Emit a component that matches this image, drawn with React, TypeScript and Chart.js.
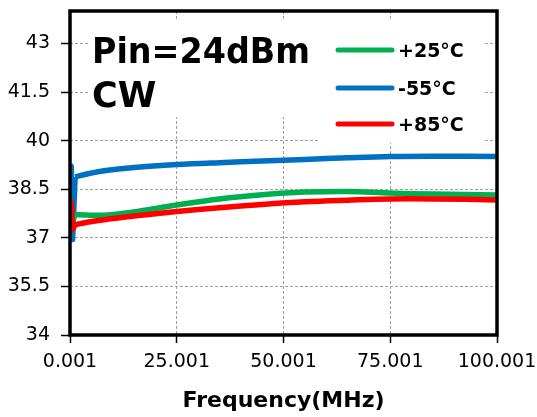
import React, { useEffect, useRef } from 'react';
import { Chart, registerables } from 'chart.js';

Chart.register(...registerables);

// Frequency sweep (MHz); the first points below ~1 MHz form the start-up spike
const FREQ = [0.001, 0.3, 0.6, 1.2, 4, 8, 15, 25, 35, 45, 55, 65, 75, 85, 100.001];
const GAIN_P25 = [37.9, 37.85, 37.5, 37.72, 37.7, 37.7, 37.8, 38.01, 38.2, 38.33, 38.41, 38.43, 38.38, 38.35, 38.32];
const GAIN_M55 = [39.25, 39.2, 36.95, 38.88, 38.97, 39.07, 39.17, 39.26, 39.32, 39.37, 39.42, 39.47, 39.51, 39.52, 39.51];
const GAIN_P85 = [38.17, 38.1, 37.25, 37.4, 37.48, 37.56, 37.67, 37.81, 37.93, 38.03, 38.11, 38.16, 38.2, 38.2, 38.17];
const SPIKE_END = 3; // index where the start-up spike joins the smooth sweep

const X_TICKS = [0.001, 25.001, 50.001, 75.001, 100.001];
const X_LABELS = ['0.001', '25.001', '50.001', '75.001', '100.001'];
const Y_TICKS = [34, 35.5, 37, 38.5, 40, 41.5, 43];
const Y_LABELS = ['34', '35.5', '37', '38.5', '40', '41.5', '43'];

const SERIES_NAMES = ['+25°C', '-55°C', '+85°C'];
const SERIES_COLORS = ['#00b050', '#0070c0', '#ff0000'];
const SERIES_ORDER = [1, 2, 0]; // red drawn on top
const X_TITLE = 'Frequency(MHz)';
const NOTE_LINES = ['Pin=24dBm', 'CW'];

const FONT = "'DejaVu Sans', Verdana, sans-serif";

const overlayPlugin = {
  id: 'overlay',
  beforeDatasetsDraw(chart: any) {
    const ctx = chart.ctx as CanvasRenderingContext2D;
    ctx.save();
    ctx.fillStyle = '#ffffff';
    ctx.fillRect(90, 20, 228, 97);
    ctx.fillRect(318, 20, 167, 123);
    ctx.fillStyle = '#000000';
    ctx.textAlign = 'left';
    ctx.textBaseline = 'alphabetic';
    ctx.font = `bold 35px ${FONT}`;
    ctx.fillText(NOTE_LINES[0], 92, 63, 218);
    ctx.fillText(NOTE_LINES[1], 92, 107);
    const ys = [50, 88, 124];
    SERIES_NAMES.forEach((name, i) => {
      ctx.strokeStyle = SERIES_COLORS[i];
      ctx.lineWidth = 5;
      ctx.lineCap = 'round';
      ctx.beginPath();
      ctx.moveTo(338, ys[i]);
      ctx.lineTo(392, ys[i]);
      ctx.stroke();
      ctx.fillStyle = '#000000';
      ctx.font = `bold 19px ${FONT}`;
      ctx.fillText(name, 398, ys[i] + 7, 67);
    });
    ctx.restore();
  },
  afterDatasetsDraw(chart: any) {
    const ctx = chart.ctx as CanvasRenderingContext2D;
    const a = chart.chartArea;
    ctx.save();
    ctx.strokeStyle = '#000000';
    ctx.lineWidth = 3.5;
    ctx.lineJoin = 'miter';
    ctx.strokeRect(a.left, a.top, a.right - a.left, a.bottom - a.top);
    ctx.restore();
  },
  afterDraw(chart: any) {
    const ctx = chart.ctx as CanvasRenderingContext2D;
    const a = chart.chartArea;
    ctx.save();
    ctx.fillStyle = '#000000';
    ctx.font = `bold 22px ${FONT}`;
    ctx.textAlign = 'center';
    ctx.textBaseline = 'alphabetic';
    ctx.fillText(X_TITLE, (a.left + a.right) / 2, 407, 220);
    ctx.restore();
  },
};

const noPad = (s: any) => {
  s.paddingLeft = 0;
  s.paddingRight = 0;
  s.paddingTop = 0;
  s.paddingBottom = 0;
};

export default function App() {
  const ref = useRef<HTMLCanvasElement | null>(null);

  useEffect(() => {
    document.body.style.margin = '0';
    const canvas = ref.current;
    if (!canvas) return;
    const pts = (vals: number[]) => FREQ.map((f, i) => ({ x: f, y: vals[i] }));
    const series = [GAIN_P25, GAIN_M55, GAIN_P85];
    const datasets: any[] = [];
    series.forEach((vals, i) => {
      const all = pts(vals);
      const common = {
        label: SERIES_NAMES[i],
        borderColor: SERIES_COLORS[i],
        borderWidth: 5.5,
        pointRadius: 0,
        fill: false,
        borderCapStyle: 'butt',
        borderJoinStyle: 'round',
        order: SERIES_ORDER[i],
      };
      datasets.push({ ...common, data: all.slice(0, SPIKE_END + 1), tension: 0 });
      datasets.push({ ...common, data: all.slice(SPIKE_END), tension: 0.35 });
    });
    const chart = new Chart(canvas, {
      type: 'line',
      data: { datasets },
      options: {
        responsive: false,
        animation: false,
        devicePixelRatio: 1,
        layout: { padding: { top: 11, right: 40, left: 0, bottom: 0 } },
        plugins: { legend: { display: false }, tooltip: { enabled: false } },
        scales: {
          x: {
            type: 'linear',
            min: 0.001,
            max: 100.001,
            afterFit: (s: any) => { s.height = 82; noPad(s); },
            afterBuildTicks: (s: any) => { s.ticks = X_TICKS.map((v) => ({ value: v })); },
            grid: {
              color: '#a0a0a0',
              lineWidth: 1,
              drawTicks: true,
              tickLength: 8,
              tickColor: '#000000',
              tickWidth: 1.5,
              tickBorderDash: [],
            },
            border: { display: false, dash: [3, 2] },
            ticks: {
              color: '#000000',
              font: { family: FONT, size: 19 },
              padding: 8,
              maxRotation: 0,
              autoSkip: false,
              callback: (v: any) => {
                const i = X_TICKS.findIndex((t) => Math.abs(t - v) < 1e-6);
                return i >= 0 ? X_LABELS[i] : '';
              },
            },
          },
          y: {
            type: 'linear',
            min: 34,
            max: 44,
            afterFit: (s: any) => { s.width = 70; noPad(s); },
            afterBuildTicks: (s: any) => { s.ticks = Y_TICKS.map((v) => ({ value: v })); },
            grid: {
              color: '#a0a0a0',
              lineWidth: 1,
              drawTicks: true,
              tickLength: 9,
              tickColor: '#000000',
              tickWidth: 1.5,
              tickBorderDash: [],
            },
            border: { display: false, dash: [3, 2] },
            ticks: {
              color: '#000000',
              font: { family: FONT, size: 19 },
              padding: 11,
              autoSkip: false,
              callback: (v: any) => {
                const i = Y_TICKS.findIndex((t) => Math.abs(t - v) < 1e-6);
                return i >= 0 ? Y_LABELS[i] : '';
              },
            },
          },
        },
      },
      plugins: [overlayPlugin],
    } as any);
    return () => chart.destroy();
  }, []);

  return (
    <div style={{ width: 537, height: 417 }}>
      <canvas ref={ref} width={537} height={417} style={{ display: 'block', width: 537, height: 417 }} />
    </div>
  );
}
